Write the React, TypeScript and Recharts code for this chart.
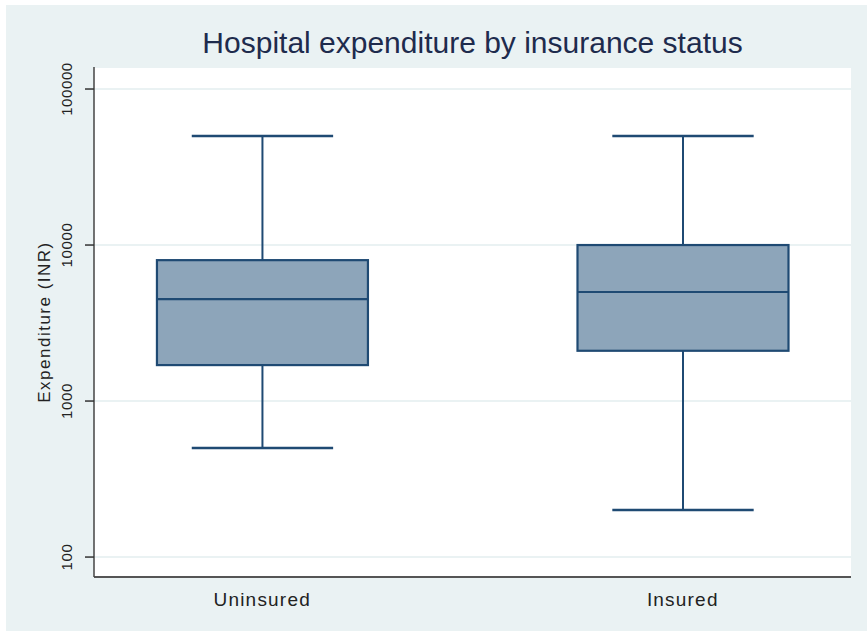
import { ComposedChart, Bar, XAxis, YAxis, CartesianGrid } from "recharts";

// box plot summary per group
const groups = ["Uninsured", "Insured"];
const groupPos = [1, 2];
const lowWhisker = [500, 200];
const lowerQuartile = [1700, 2100];
const medians = [4500, 5000];
const upperQuartile = [8000, 10000];
const highWhisker = [50000, 50000];
const yTicks = [100, 1000, 10000, 100000];

const data = groups.map((g, i) => ({
  name: g,
  pos: groupPos[i],
  whisker: [lowWhisker[i], highWhisker[i]],
  box: [lowerQuartile[i], upperQuartile[i]],
  median: medians[i],
}));

const FONT = "'Liberation Sans', Arial, sans-serif";
const LINE = "#1f4a73";
const FILL = "#8da5ba";
const BG = "#eaf2f3";

function WhiskerShape(props: any) {
  const { x, y, width, height } = props;
  const top = Math.min(y, y + height);
  const bottom = Math.max(y, y + height);
  const cx = x + width / 2;
  const cap = width * 0.335;
  return (
    <g>
      <line x1={cx} x2={cx} y1={top} y2={bottom} stroke={LINE} strokeWidth={2} />
      <line x1={cx - cap} x2={cx + cap} y1={top} y2={top} stroke={LINE} strokeWidth={2.5} />
      <line x1={cx - cap} x2={cx + cap} y1={bottom} y2={bottom} stroke={LINE} strokeWidth={2.5} />
    </g>
  );
}

function BoxShape(props: any) {
  const { x, y, width, height, payload } = props;
  const top = Math.min(y, y + height);
  const h = Math.abs(height);
  const [lo, hi] = payload.box;
  // y axis is log, so the median sits linearly in log space inside the box
  const t = (Math.log10(hi) - Math.log10(payload.median)) / (Math.log10(hi) - Math.log10(lo));
  const my = top + h * t;
  return (
    <g>
      <rect x={x} y={top} width={width} height={h} fill={FILL} stroke={LINE} strokeWidth={2.2} />
      <line x1={x} x2={x + width} y1={my} y2={my} stroke={LINE} strokeWidth={2.2} />
    </g>
  );
}

function YTick({ x, y, payload }: any) {
  return (
    <text
      x={0}
      y={0}
      transform={`translate(${x - 19},${y}) rotate(-90)`}
      textAnchor="middle"
      dominantBaseline="central"
      fontFamily={FONT}
      fontSize={15}
      letterSpacing={0.6}
      fill="#222"
    >
      {payload.value}
    </text>
  );
}

function XTick({ x, y, payload }: any) {
  const i = groupPos.indexOf(payload.value);
  return (
    <text x={x} y={y + 29} textAnchor="middle" fontFamily={FONT} fontSize={19} letterSpacing={1.2} fill="#222">
      {groups[i]}
    </text>
  );
}

function YLabel({ viewBox }: any) {
  const cx = viewBox.x + 10;
  const cy = viewBox.y + viewBox.height / 2;
  return (
    <text
      x={0}
      y={0}
      transform={`translate(${cx},${cy}) rotate(-90)`}
      textAnchor="middle"
      dominantBaseline="central"
      fontFamily={FONT}
      fontSize={17}
      letterSpacing={1.5}
      fill="#222"
    >
      Expenditure (INR)
    </text>
  );
}

export default function App() {
  return (
    <div style={{ position: "absolute", left: 6, top: 5, width: 861, height: 626, background: BG }}>
      <div
        style={{
          position: "absolute",
          left: 88,
          width: 757,
          top: 23,
          textAlign: "center",
          fontFamily: FONT,
          fontSize: 30,
          lineHeight: "30px",
          color: "#1e2b4d",
        }}
      >
        Hospital expenditure by insurance status
      </div>
      <ComposedChart
        width={861}
        height={626}
        data={data}
        margin={{ top: 62, right: 16, bottom: 14, left: 28 }}
      >
        <CartesianGrid vertical={false} horizontal stroke={BG} strokeWidth={2} fill="#fff" />
        <XAxis
          xAxisId="w"
          dataKey="pos"
          type="number"
          domain={[0.6, 2.4]}
          ticks={groupPos}
          allowDataOverflow
          height={40}
          tickLine={false}
          tickSize={0}
          tickMargin={0}
          axisLine={{ stroke: "#555", strokeWidth: 2 }}
          tick={<XTick />}
        />
        <XAxis
          xAxisId="b"
          dataKey="pos"
          type="number"
          domain={[0.6, 2.4]}
          ticks={groupPos}
          allowDataOverflow
          height={0}
          hide
        />
        <YAxis
          scale="log"
          domain={[74.5, 138400]}
          ticks={yTicks}
          allowDataOverflow
          width={60}
          tickSize={9}
          tickMargin={0}
          tickLine={{ stroke: "#333", strokeWidth: 1.5 }}
          axisLine={{ stroke: "#444", strokeWidth: 1.5 }}
          tick={<YTick />}
          label={<YLabel />}
        />
        <Bar xAxisId="w" dataKey="whisker" barSize={211} shape={<WhiskerShape />} isAnimationActive={false} />
        <Bar xAxisId="b" dataKey="box" barSize={211} shape={<BoxShape />} isAnimationActive={false} />
      </ComposedChart>
    </div>
  );
}
